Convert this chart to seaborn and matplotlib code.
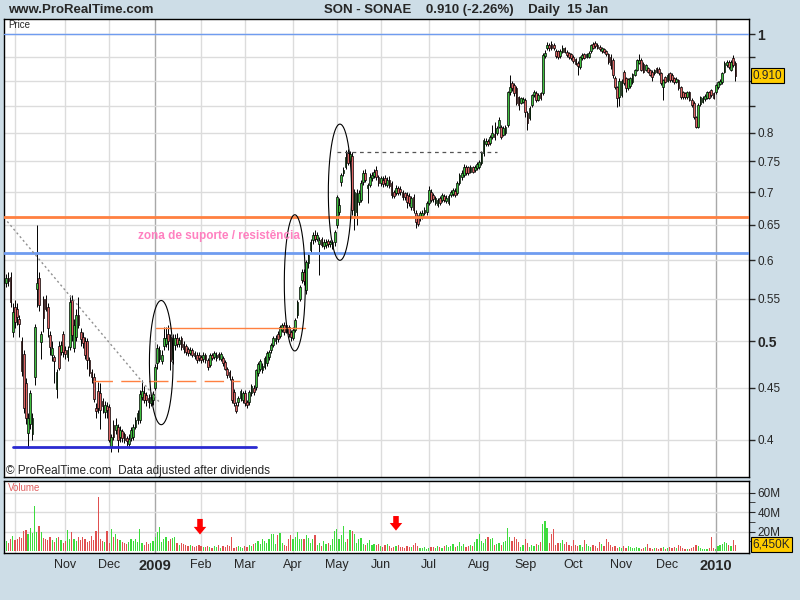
import numpy as np
import pandas as pd
import matplotlib
matplotlib.use('Agg')
from matplotlib import pyplot as plt
from matplotlib.transforms import blended_transform_factory
from matplotlib.ticker import NullLocator
import seaborn as sns

# trading days shown (Lisbon exchange holidays taken out)
holidays = ['2008-12-25', '2008-12-26', '2009-01-01', '2009-04-10',
            '2009-04-13', '2009-05-01', '2009-12-25', '2010-01-01']
days = pd.bdate_range('2008-09-25', '2010-01-15').drop(pd.to_datetime(holidays))

# daily OHLC, one line per month (Sep/Oct 08 ... Jan 10)
opens = [
    .570, .577, .578, .510, .540, .538, .525, .500, .486, .455, .406, .415, .405, .461, .562, .576, .499, .550, .550, .540, .507, .485, .482, .449, .494, .488, .508,
    .490, .482, .493, .549, .492, .505, .530, .510, .505, .500, .500, .479, .466, .461, .430, .447, .445, .437, .426, .432,
    .431, .394, .414, .409, .412, .403, .408, .405, .402, .396, .402, .403, .412, .418, .418, .441, .445, .443, .440, .435, .438,
    .450, .476, .480, .478, .494, .497, .508, .505, .480, .496, .503, .497, .503, .497, .494, .491, .487, .490, .487, .485, .485,
    .482, .480, .484, .479, .474, .485, .482, .481, .486, .480, .481, .477, .470, .466, .459, .446, .433, .436, .440, .438,
    .445, .436, .436, .445, .450, .451, .465, .470, .468, .472, .476, .482, .490, .496, .500, .508, .506, .513, .518, .518, .516, .510,
    .504, .513, .530, .550, .574, .584, .561, .596, .614, .628, .636, .630, .622, .630, .620, .621, .627, .622, .619, .625,
    .650, .669, .716, .731, .741, .764, .750, .760, .662, .669, .685, .688, .716, .731, .706, .711, .722, .725, .736, .724,
    .714, .720, .722, .712, .720, .714, .700, .698, .707, .705, .700, .698, .695, .694, .676, .692, .667, .660, .660, .662, .668, .669,
    .683, .700, .695, .683, .680, .690, .687, .693, .686, .683, .695, .697, .702, .698, .714, .724, .727, .740, .740, .733, .740, .735, .739,
    .741, .747, .764, .780, .785, .782, .792, .798, .800, .811, .811, .797, .800, .814, .877, .895, .891, .885, .867, .856, .858,
    .862, .837, .827, .852, .871, .875, .862, .875, .875, .951, .969, .975, .978, .975, .962, .962, .952, .960, .968, .960, .958, .955,
    .950, .945, .936, .928, .947, .955, .950, .950, .962, .978, .980, .976, .972, .962, .966, .962, .955, .950, .944, .906, .887, .868,
    .872, .918, .905, .885, .890, .897, .912, .922, .937, .943, .935, .922, .926, .922, .918, .915, .926, .925, .915, .887, .907,
    .900, .915, .912, .905, .898, .901, .887, .877, .875, .867, .877, .862, .856, .829, .811, .853, .858, .863, .866, .877, .881, .875,
    .877, .887, .894, .897, .918, .932, .939, .922, .947, .937,
]
highs = [
    .582, .585, .585, .545, .548, .545, .530, .505, .490, .460, .425, .448, .425, .520, .650, .585, .512, .553, .555, .545, .512, .500, .485, .470, .500, .500, .512,
    .495, .495, .555, .555, .525, .538, .552, .515, .510, .505, .503, .482, .470, .465, .435, .456, .455, .440, .437, .436,
    .434, .405, .418, .420, .415, .413, .410, .407, .404, .405, .412, .415, .421, .428, .448, .458, .452, .446, .444, .444, .447,
    .475, .497, .495, .490, .516, .516, .518, .508, .508, .508, .509, .505, .506, .500, .497, .493, .493, .492, .489, .488, .488,
    .485, .488, .487, .481, .487, .487, .489, .488, .488, .488, .483, .479, .472, .468, .462, .449, .436, .442, .449, .447,
    .448, .438, .448, .454, .453, .470, .477, .480, .476, .483, .489, .490, .498, .506, .507, .512, .518, .521, .522, .521, .519, .513,
    .516, .527, .549, .568, .588, .588, .601, .610, .630, .640, .642, .640, .632, .633, .630, .629, .630, .628, .628, .642,
    .695, .690, .730, .740, .770, .772, .768, .766, .705, .705, .703, .720, .735, .738, .715, .730, .733, .738, .742, .728,
    .726, .725, .728, .724, .725, .718, .703, .712, .710, .709, .704, .700, .700, .698, .694, .697, .672, .665, .670, .672, .676, .686,
    .710, .705, .698, .694, .690, .694, .698, .697, .695, .697, .703, .707, .706, .717, .730, .735, .745, .744, .743, .744, .743, .744, .749,
    .753, .768, .790, .790, .789, .796, .814, .820, .813, .830, .815, .812, .815, .880, .912, .900, .895, .889, .870, .868, .867,
    .866, .840, .850, .874, .881, .879, .876, .878, .958, .965, .982, .980, .985, .979, .966, .965, .966, .975, .972, .964, .961, .958,
    .953, .948, .940, .952, .957, .958, .958, .962, .978, .983, .984, .979, .975, .971, .970, .965, .958, .955, .947, .910, .890, .905,
    .903, .922, .908, .906, .908, .916, .925, .945, .955, .947, .938, .935, .929, .925, .921, .925, .929, .928, .918, .904, .910,
    .915, .918, .915, .908, .907, .904, .890, .880, .878, .880, .880, .865, .859, .832, .855, .870, .869, .873, .880, .880, .884, .878,
    .894, .900, .903, .918, .940, .942, .943, .942, .954, .940,
]
lows = [
    .565, .566, .540, .505, .515, .518, .505, .462, .425, .415, .393, .410, .400, .453, .540, .535, .480, .510, .535, .505, .485, .478, .455, .440, .468, .484, .482,
    .480, .478, .490, .500, .488, .500, .515, .495, .492, .480, .470, .462, .455, .436, .420, .425, .410, .425, .420, .420,
    .398, .389, .400, .405, .389, .398, .398, .397, .395, .393, .399, .400, .410, .415, .416, .438, .435, .432, .430, .432, .433,
    .448, .470, .477, .475, .490, .493, .490, .468, .475, .490, .493, .493, .490, .487, .485, .483, .484, .482, .480, .476, .478,
    .476, .477, .476, .468, .472, .479, .480, .478, .479, .478, .473, .468, .460, .458, .435, .432, .425, .432, .437, .435,
    .432, .430, .433, .442, .443, .448, .462, .467, .465, .469, .473, .479, .487, .493, .497, .499, .503, .510, .507, .509, .505, .500,
    .501, .510, .527, .547, .570, .568, .556, .590, .610, .622, .626, .627, .580, .618, .616, .617, .618, .618, .615, .620,
    .645, .665, .710, .725, .738, .744, .745, .665, .642, .650, .680, .684, .712, .716, .683, .708, .718, .722, .720, .710,
    .710, .708, .710, .708, .706, .690, .690, .695, .695, .696, .688, .688, .675, .678, .672, .668, .645, .648, .655, .658, .664, .665,
    .680, .685, .685, .680, .676, .680, .684, .685, .683, .680, .692, .694, .692, .695, .711, .720, .724, .728, .728, .730, .730, .732, .736,
    .738, .744, .760, .776, .776, .779, .789, .788, .797, .808, .789, .794, .797, .810, .872, .880, .870, .852, .842, .853, .855,
    .830, .805, .824, .849, .868, .858, .859, .862, .872, .947, .965, .962, .965, .964, .947, .946, .948, .957, .957, .950, .946, .944,
    .936, .932, .912, .925, .944, .945, .947, .947, .959, .967, .970, .966, .963, .959, .957, .952, .935, .925, .905, .884, .848, .850,
    .868, .892, .877, .882, .886, .894, .909, .919, .934, .919, .915, .919, .915, .909, .900, .912, .915, .912, .892, .862, .895,
    .897, .898, .898, .894, .895, .882, .864, .864, .864, .864, .859, .849, .826, .808, .808, .850, .855, .860, .863, .863, .868, .863,
    .874, .884, .891, .894, .915, .929, .925, .919, .929, .900,
]
closes = [
    .577, .572, .546, .534, .522, .528, .520, .467, .430, .420, .420, .445, .420, .516, .570, .543, .508, .527, .538, .515, .493, .492, .478, .466, .471, .496, .488,
    .486, .490, .546, .507, .518, .530, .518, .502, .498, .485, .479, .465, .461, .439, .427, .430, .428, .432, .433, .428,
    .400, .403, .403, .414, .400, .409, .402, .400, .399, .401, .409, .412, .418, .425, .444, .447, .438, .438, .436, .441, .444,
    .472, .492, .490, .485, .504, .504, .500, .478, .503, .503, .497, .501, .493, .491, .488, .487, .490, .485, .483, .479, .481,
    .479, .485, .479, .472, .485, .481, .487, .485, .482, .486, .476, .470, .463, .461, .438, .435, .427, .440, .447, .445,
    .435, .433, .446, .452, .446, .468, .475, .478, .473, .481, .487, .488, .496, .504, .504, .502, .516, .518, .510, .512, .508, .505,
    .513, .524, .546, .565, .584, .572, .598, .607, .625, .636, .630, .636, .628, .621, .626, .626, .622, .625, .626, .639,
    .692, .680, .727, .736, .757, .747, .762, .672, .700, .699, .699, .714, .731, .720, .711, .724, .727, .733, .724, .714,
    .722, .713, .714, .720, .710, .695, .694, .707, .699, .700, .692, .692, .684, .683, .690, .672, .654, .652, .667, .668, .672, .683,
    .703, .688, .689, .690, .687, .683, .695, .688, .691, .693, .700, .703, .696, .714, .727, .731, .741, .731, .731, .740, .733, .740, .745,
    .749, .764, .787, .785, .780, .792, .800, .792, .809, .824, .793, .809, .810, .877, .887, .885, .875, .856, .852, .865, .864,
    .839, .818, .846, .871, .877, .862, .872, .866, .953, .958, .975, .968, .970, .968, .951, .950, .963, .969, .960, .953, .950, .948,
    .940, .935, .930, .949, .954, .948, .955, .958, .975, .970, .973, .969, .966, .968, .960, .955, .938, .932, .912, .887, .866, .900,
    .900, .895, .885, .903, .905, .913, .922, .942, .943, .922, .918, .932, .918, .912, .908, .922, .918, .915, .895, .901, .898,
    .912, .901, .901, .897, .904, .885, .867, .867, .867, .877, .862, .852, .829, .811, .852, .867, .866, .870, .877, .866, .871, .866,
    .891, .897, .900, .915, .937, .939, .928, .939, .932, .910,
]
# daily volume, millions of shares
volume_m = [
    10, 8, 12, 15, 11, 12, 14, 13, 21, 22, 18, 24, 19, 46, 20, 26, 20, 13, 12, 11, 14, 11, 9, 13, 14, 11, 8,
    10, 22, 12, 20, 12, 10, 14, 11, 14, 12, 9, 10, 15, 11, 21, 56, 12, 10, 9, 21,
    8, 23, 14, 18, 12, 11, 9, 8, 7, 9, 12, 10, 12, 9, 23, 8, 6, 9, 7, 8, 10,
    14, 20, 25, 9, 12, 14, 10, 12, 13, 14, 8, 6, 8, 7, 6, 5, 6, 5, 4, 5, 6,
    5, 4, 4, 5, 4, 3, 5, 4, 6, 3, 5, 4, 6, 5, 14, 3, 4, 5, 4, 3,
    5, 4, 6, 5, 7, 8, 10, 7, 12, 10, 8, 12, 18, 18, 7, 16, 19, 8, 6, 5, 12, 17,
    12, 14, 20, 12, 12, 12, 17, 13, 8, 12, 16, 6, 8, 5, 10, 7, 8, 6, 12, 21,
    23, 12, 17, 26, 9, 12, 22, 21, 18, 8, 12, 13, 7, 6, 8, 11, 6, 7, 6, 7,
    5, 4, 6, 7, 5, 3, 4, 5, 6, 4, 4, 3, 5, 4, 4, 6, 8, 5, 3, 3, 4, 2,
    3, 4, 4, 3, 5, 4, 3, 5, 6, 4, 5, 7, 4, 5, 9, 5, 7, 4, 5, 6, 5, 9, 12,
    18, 10, 8, 12, 14, 12, 13, 6, 7, 8, 6, 9, 10, 24, 14, 10, 14, 12, 9, 4, 6,
    12, 8, 4, 6, 5, 7, 6, 9, 28, 31, 24, 8, 18, 23, 6, 8, 8, 11, 7, 9, 6, 5,
    11, 6, 5, 6, 4, 11, 7, 5, 4, 6, 5, 3, 9, 7, 5, 12, 9, 6, 4, 5, 3, 4,
    3, 5, 3, 5, 4, 3, 3, 4, 3, 2, 3, 4, 7, 3, 2, 3, 3, 2, 3, 4, 2,
    3, 4, 3, 4, 3, 6, 5, 3, 2, 2, 2, 3, 4, 6, 5, 3, 2, 2, 2, 3, 14, 3,
    2, 5, 6, 7, 9, 8, 6, 5, 11, 6.45,
]

price_ticks = [0.4, 0.45, 0.5, 0.55, 0.6, 0.65, 0.7, 0.75, 0.8, 0.85, 0.9, 0.95, 1.0]
price_labels = ['0.4', '0.45', '0.5', '0.55', '0.6', '0.65', '0.7', '0.75', '0.8', '', '', '', '1']
last_price = 0.910

# hand-drawn analysis (bar index, price)
support_low = 0.394
zone_top, zone_bottom = 0.661, 0.610
breakout_level = 0.515
neck_level = 0.457
may_top = 0.766
trend_start, trend_end = (0.5, 0.655), (70.2, 0.435)
ellipses = [(70.8, 5.4, 0.548, 0.414), (131.8, 4.8, 0.665, 0.489), (152.4, 5.3, 0.816, 0.600)]
arrows = [(88.5, 33, 17), (178, 36, 21)]

BG = '#cddde7'
UP, DOWN = '#3fbf3f', '#dd6464'
VUP, VDOWN = '#3ddc3d', '#e05050'

df = pd.DataFrame({'day': days, 'o': opens, 'h': highs, 'l': lows, 'c': closes, 'vol': volume_m})
df['i'] = np.arange(len(df))
df['dir'] = np.where(df.c >= df.o, 'up', 'down')

sns.set_style('white')
plt.rcParams['font.family'] = ['Liberation Sans Narrow', 'Liberation Sans', 'DejaVu Sans']

fig = plt.figure(figsize=(8, 6), dpi=100, facecolor=BG)
ax = fig.add_axes([4 / 800, 123 / 600, 745 / 800, 458 / 600])
axv = fig.add_axes([4 / 800, 47 / 600, 745 / 800, 72 / 600])

# month grid
month_start = df.index[df.day.dt.month != df.day.dt.month.shift()].tolist()
for m in month_start[1:]:
    is_year = df.day[m].month == 1
    for a in (ax, axv):
        a.axvline(m, color='#a8a8a8' if is_year else '#dcdcdc', lw=1, zorder=0)

# candles
ax.vlines(df.i, df.l, df.h, color='black', lw=0.7, zorder=2)
for d, col in (('up', UP), ('down', DOWN)):
    s = df[df.dir == d]
    ax.bar(s.i, (s.c - s.o).abs(), bottom=np.minimum(s.o, s.c), width=0.8,
           color=col, edgecolor='black', linewidth=0.5, zorder=3)

ax.set_yscale('log')
ax.set_ylim(0.3679, 1.0345)
ax.set_xlim(-1.0, 339.2)
ax.yaxis.set_minor_locator(NullLocator())
ax.set_yticks(price_ticks)
ax.set_yticklabels(price_labels)
ax.yaxis.tick_right()
ax.tick_params(axis='y', direction='out', length=4, width=1, labelsize=8.5, pad=2)
ax.tick_params(axis='x', bottom=False, labelbottom=False)
for t in ax.get_yticklabels():
    if t.get_text() in ('1', '0.5'):
        t.set_fontweight('bold')
        t.set_fontsize(10)
ax.grid(axis='y', color='#dcdcdc', lw=1, zorder=0)
ax.set_axisbelow(True)
for sp in ax.spines.values():
    sp.set_color('black')
    sp.set_linewidth(1)

# drawn lines
ax.axhline(1.0, color='#6f9cf0', lw=1, zorder=4)
ax.axhline(zone_top, color='#ff8040', lw=2, zorder=4)
ax.axhline(zone_bottom, color='#6f9cf0', lw=2, zorder=4)
ax.plot([3.2, 113.9], [support_low, support_low], color='#2a2ad0', lw=2, zorder=4)
ax.plot([68.3, 136.4], [breakout_level, breakout_level], color='#ff8040', lw=1, zorder=4)
ax.plot([39.8, 106.8], [neck_level, neck_level], color='#ff8040', lw=1, dashes=(14, 6), zorder=4)
ax.plot([150.9, 224], [may_top, may_top], color='#555555', lw=0.9, dashes=(3, 3), zorder=4)
ax.plot([trend_start[0], trend_end[0]], [trend_start[1], trend_end[1]],
        color='#909090', lw=1, dashes=(1.5, 2), zorder=4)
t = np.linspace(0, 2 * np.pi, 300)
for cx, hw, top, bot in ellipses:
    mid = np.sqrt(top * bot)
    k = np.log(top / bot) / 2
    ax.plot(cx + hw * np.cos(t), mid * np.exp(k * np.sin(t)), color='black', lw=0.8, zorder=5)

ax.text(97.4, 0.634, 'zona de suporte / resistência', color='#ff80c0', fontsize=8.5,
        fontweight='bold', ha='center', va='center', family=['Liberation Sans', 'DejaVu Sans'], zorder=6)

tr = blended_transform_factory(ax.transAxes, ax.transData)
ax.text(1.005, last_price, f'{last_price:.3f}', transform=tr, ha='left', va='center', fontsize=8.5,
        clip_on=False, zorder=10,
        bbox=dict(boxstyle='square,pad=0.12', fc='#ffcc00', ec='black', lw=0.8))

# volume
sns.barplot(data=df, x='i', y='vol', hue='dir', palette={'up': VUP, 'down': VDOWN},
            native_scale=True, width=0.55, dodge=False, errorbar=None, saturation=1,
            linewidth=0, legend=False, ax=axv)
axv.set_xlim(-1.0, 339.2)
axv.set_ylim(-2, 72)
axv.set_yticks([20, 40, 60])
axv.set_yticklabels(['20M', '40M', '60M'])
axv.set_yticks([10, 30, 50], minor=True)
axv.yaxis.tick_right()
axv.tick_params(axis='y', which='both', direction='out', length=4, labelsize=8.5, pad=2)
axv.grid(axis='y', color='#dcdcdc', lw=1)
axv.set_axisbelow(True)
axv.set_ylabel('')
axv.set_xlabel('')
ticks = month_start[2:]
labels = [str(df.day[m].year) if df.day[m].month == 1 else df.day[m].strftime('%b') for m in ticks]
axv.set_xticks(ticks)
axv.set_xticklabels(labels)
axv.tick_params(axis='x', length=0, labelsize=9, pad=4)
for lab in axv.get_xticklabels():
    if lab.get_text().isdigit():
        lab.set_fontweight('bold')
        lab.set_fontsize(10.5)
for sp in axv.spines.values():
    sp.set_color('black')
    sp.set_linewidth(1)

trv = blended_transform_factory(axv.transAxes, axv.transData)
axv.text(1.005, volume_m[-1], f'{volume_m[-1] * 1000:,.0f}K', transform=trv, ha='left', va='center',
         fontsize=8.5, clip_on=False, zorder=10,
         bbox=dict(boxstyle='square,pad=0.12', fc='#ffcc00', ec='black', lw=0.8))

for xi, top, tip in arrows:
    axv.annotate('', xy=(xi, tip), xytext=(xi, top),
                 arrowprops=dict(arrowstyle='simple,head_length=0.55,head_width=0.9,tail_width=0.4',
                                 fc='red', ec='red', lw=0, shrinkA=0, shrinkB=0), zorder=8)

# texts
fig.text(8 / 800, 1 - 10 / 600, 'www.ProRealTime.com', fontsize=9.5, fontweight='bold', va='center')
fig.text(466 / 800, 1 - 10 / 600, 'SON - SONAE    0.910 (-2.26%)    Daily  15 Jan',
         fontsize=9.5, fontweight='bold', va='center', ha='center')
fig.text(8 / 800, 1 - 25 / 600, 'Price', fontsize=7, va='center')
fig.text(8 / 800, 1 - 488 / 600, 'Volume', fontsize=7, va='center', color='#e06060')
fig.text(6 / 800, 1 - 471 / 600, '© ProRealTime.com  Data adjusted after dividends', fontsize=8.5, va='center')

fig.savefig('out.png', dpi=100, facecolor=BG)
